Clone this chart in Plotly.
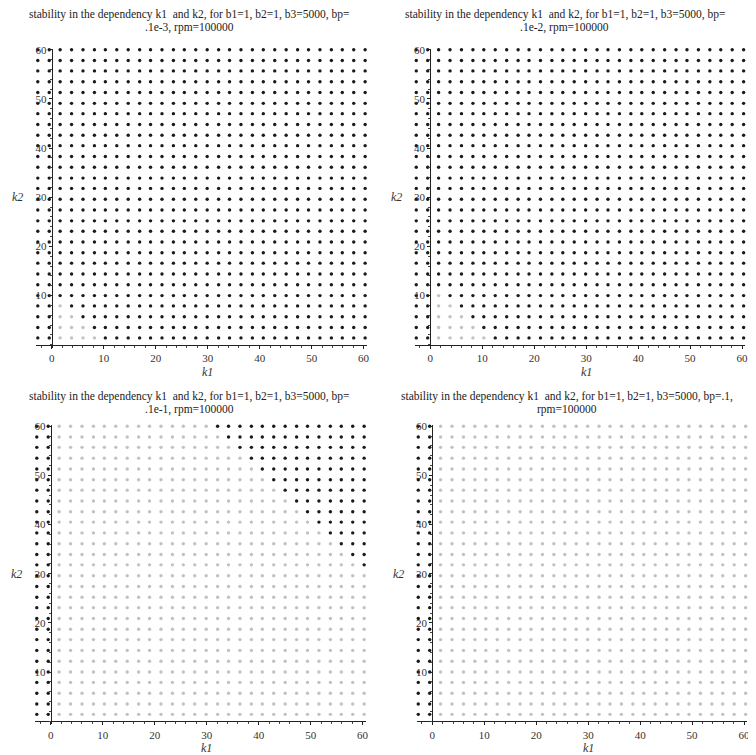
import plotly.graph_objects as go

# ---------------- data ----------------
# grid of sampled (k1, k2) points; columns left->right, rows top->bottom
K1 = [-2.7, -0.5, 1.6, 3.8, 6.0, 8.2, 10.3, 12.5, 14.7, 16.9,
      19.0, 21.2, 23.4, 25.5, 27.7, 29.9, 32.1, 34.2, 36.4, 38.6,
      40.7, 42.9, 45.1, 47.3, 49.4, 51.6, 53.8, 55.9, 58.1, 60.3]
K2 = [60.0, 57.8, 55.7, 53.5, 51.3, 49.1, 47.0, 44.8, 42.6, 40.5,
      38.3, 36.1, 33.9, 31.8, 29.6, 27.4, 25.2, 23.1, 20.9, 18.7,
      16.6, 14.4, 12.2, 10.0, 7.9, 5.7, 3.5, 1.4, -0.8, -3.0]

X_TICKS = [0, 10, 20, 30, 40, 50, 60]
Y_TICKS = [10, 20, 30, 40, 50, 60]

# '#' = dark point, '.' = light point  (spaces only for readability)
B = "##### ##### ##### ##### ##### #####"
L = "##... ..... ..... ..... ..... ....."

GRID_BP_1E3 = [B] * 24 + [
    "##.## ##### ##### ##### ##### #####",
    "##..# ##### ##### ##### ##### #####",
    "##... ##### ##### ##### ##### #####",
    "##... .#### ##### ##### ##### #####",
    B, B]

GRID_BP_1E2 = [B] * 23 + [
    "##.## ##### ##### ##### ##### #####",
    "##..# ##### ##### ##### ##### #####",
    "##... ##### ##### ##### ##### #####",
    "##... .#### ##### ##### ##### #####",
    "##... ..### ##### ##### ##### #####",
    B, B]

GRID_BP_1E1 = [
    "##... ..... ..... .#### ##### #####",
    "##... ..... ..... ..### ##### #####",
    "##... ..... ..... ...## ##### #####",
    "##... ..... ..... ....# ##### #####",
    "##... ..... ..... ..... ##### #####",
    "##... ..... ..... ..... .#### #####",
    "##... ..... ..... ..... ..### #####",
    "##... ..... ..... ..... ...## #####",
    "##... ..... ..... ..... ....# #####",
    "##... ..... ..... ..... ..... #####",
    "##... ..... ..... ..... ..... .####",
    "##... ..... ..... ..... ..... ..###",
    "##... ..... ..... ..... ..... ...##",
    "##... ..... ..... ..... ..... ....#",
] + [L] * 14 + [B, B]

GRID_BP_1 = [L] * 28 + [B, B]

TITLES = [
    ("stability in the dependency k1  and k2, for b1=1, b2=1, b3=5000, bp=", ".1e-3, rpm=100000"),
    ("stability in the dependency k1  and k2, for b1=1, b2=1, b3=5000, bp=", ".1e-2, rpm=100000"),
    ("stability in the dependency k1  and k2, for b1=1, b2=1, b3=5000, bp=", ".1e-1, rpm=100000"),
    ("stability in the dependency k1  and k2, for b1=1, b2=1, b3=5000, bp=.1,", "rpm=100000"),
]
GRIDS = [GRID_BP_1E3, GRID_BP_1E2, GRID_BP_1E1, GRID_BP_1]

# ---------------- layout geometry (window pixels) ----------------
WIN_W, WIN_H = 756, 755
OFFX, OFFY = 8, 8                 # page body margin
W, H = WIN_W - OFFX, WIN_H - OFFY  # figure size
SX, SY = 5.217, 4.95              # px per data unit
XR = [-3.0, 60.6]
YR = [-0.6, 60.2]
ORIGINS = [(52, 342), (432, 342), (51, 721), (434, 721)]   # window pixel of (0,0)
TITLE_X = [190, 567, 190, 569]
TITLE_Y = [[10, 23], [10, 23], [394, 407], [394, 407]]


def px(x):
    return (x - OFFX) / W


def py(y):
    return 1 - (y - OFFY) / H


FONT = "Liberation Serif"
DARK = "#1a1a1a"
LIGHT = "#c2c2c2"

fig = go.Figure()
annotations = []

for i, (grid, (t1, t2), (ox, oy)) in enumerate(zip(GRIDS, TITLES, ORIGINS)):
    n = "" if i == 0 else str(i + 1)
    xa, ya = "x" + n, "y" + n
    rows = [r.replace(" ", "") for r in grid]
    assert len(rows) == len(K2) and all(len(r) == len(K1) for r in rows)
    dx, dy, lx, ly = [], [], [], []
    for r, row in enumerate(rows):
        for c, ch in enumerate(row):
            if ch == "#":
                dx.append(K1[c]); dy.append(K2[r])
            else:
                lx.append(K1[c]); ly.append(K2[r])
    fig.add_trace(go.Scatter(x=lx, y=ly, mode="markers", xaxis=xa, yaxis=ya,
                             marker=dict(size=3.4, color=LIGHT), cliponaxis=False,
                             showlegend=False, hoverinfo="skip"))
    fig.add_trace(go.Scatter(x=dx, y=dy, mode="markers", xaxis=xa, yaxis=ya,
                             marker=dict(size=3.4, color=DARK), cliponaxis=False,
                             showlegend=False, hoverinfo="skip"))

    x0 = px(ox + XR[0] * SX)
    x1 = px(ox + XR[1] * SX)
    y0 = py(oy - YR[0] * SY)
    y1 = py(oy - YR[1] * SY)
    axis_common = dict(showgrid=False, zeroline=False, showline=True,
                       linecolor="#222", linewidth=1.2, ticks="outside",
                       ticklen=3, tickcolor="#222", tickwidth=1,
                       tickfont=dict(family=FONT, size=11, color="#333"),
                       minor=dict(dtick=2, ticks="outside", ticklen=2,
                                  tickcolor="#444"))
    fig.layout["xaxis" + n] = dict(domain=[x0, x1], range=XR, anchor="free",
                                   position=py(oy), tickvals=X_TICKS,
                                   **axis_common)
    fig.layout["yaxis" + n] = dict(domain=[y0, y1], range=YR, anchor="free",
                                   position=px(ox), tickvals=Y_TICKS,
                                   **axis_common)

    tf = dict(family=FONT, size=11.5, color="#222")
    annotations.append(dict(text=t1, x=px(TITLE_X[i]), y=py(TITLE_Y[i][0]),
                            xref="paper", yref="paper", showarrow=False,
                            xanchor="center", yanchor="middle", font=tf))
    annotations.append(dict(text=t2, x=px(TITLE_X[i]), y=py(TITLE_Y[i][1]),
                            xref="paper", yref="paper", showarrow=False,
                            xanchor="center", yanchor="middle", font=tf))
    # axis names
    annotations.append(dict(text="<i>k1</i>", x=px(ox + 30 * SX), y=py(oy + 27),
                            xref="paper", yref="paper", showarrow=False,
                            xanchor="center", yanchor="middle",
                            font=dict(family=FONT, size=12, color="#333")))
    annotations.append(dict(text="<i>k2</i>", x=px(ox - 34), y=py(oy - 30 * SY),
                            xref="paper", yref="paper", showarrow=False,
                            xanchor="center", yanchor="middle",
                            font=dict(family=FONT, size=12, color="#333")))

fig.update_layout(width=W, height=H, margin=dict(l=0, r=0, t=0, b=0),
                  paper_bgcolor="white", plot_bgcolor="white",
                  annotations=annotations, showlegend=False)

fig.write_html("out.html")
